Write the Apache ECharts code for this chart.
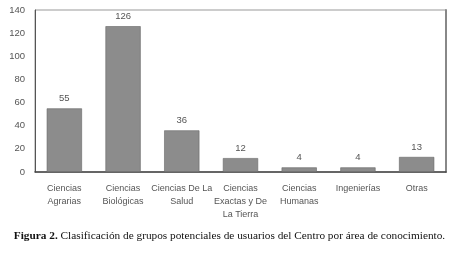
<!DOCTYPE html>
<html>
<head>
<meta charset="utf-8">
<script src="https://cdn.jsdelivr.net/npm/echarts@6/dist/echarts.min.js"></script>
<style>
  html, body { margin: 0; padding: 0; background: #fff; }
  #chart { width: 459px; height: 263px; }
</style>
</head>
<body>
<div id="chart"></div>
<script>
// categorías y valores
const categories = ['Ciencias\nAgrarias', 'Ciencias\nBiológicas', 'Ciencias De La\nSalud',
  'Ciencias\nExactas y De\nLa Tierra', 'Ciencias\nHumanas', 'Ingenierías', 'Otras'];
const values = [55, 126, 36, 12, 4, 4, 13];
const yTicks = [0, 20, 40, 60, 80, 100, 120, 140];

const axisFont = "'Liberation Sans', Arial, sans-serif";

var myChart = echarts.init(document.getElementById('chart'));
var option = {
  animation: false,
  title: {
    text: '{b|Figura 2.} Clasificación de grupos potenciales de usuarios del Centro por área de conocimiento.',
    left: 'center',
    top: 226,
    textStyle: {
      fontFamily: "'Liberation Serif', 'DejaVu Serif', serif",
      fontSize: 11.3,
      fontWeight: 'normal',
      color: '#111',
      rich: {
        b: { fontFamily: "'Liberation Serif', serif", fontSize: 11.3, fontWeight: 'bold', color: '#111' }
      }
    }
  },
  grid: {
    left: 35, right: 13, top: 10, bottom: 91,
    show: true,
    borderColor: '#999',
    borderWidth: 1
  },
  xAxis: {
    type: 'category',
    data: categories,
    axisLine: { lineStyle: { color: '#444', width: 1.5 } },
    axisTick: { show: false },
    axisLabel: {
      interval: 0,
      margin: 10,
      fontFamily: axisFont,
      fontSize: 9,
      lineHeight: 13,
      color: '#555'
    }
  },
  yAxis: [{
    type: 'value',
    min: 0, max: 140, interval: 20,
    splitLine: { show: false },
    axisLine: { show: true, lineStyle: { color: '#555', width: 1 } },
    axisTick: { show: false },
    axisLabel: {
      margin: 10,
      fontFamily: axisFont,
      fontSize: 9.5,
      color: '#555',
      formatter: v => yTicks.includes(v) ? String(v) : ''
    }
  }, {
    type: 'value',
    position: 'right',
    min: 0, max: 140, interval: 20,
    splitLine: { show: false },
    axisLine: { show: true, lineStyle: { color: '#888', width: 2 } },
    axisTick: { show: false },
    axisLabel: { show: false }
  }],
  series: [{
    type: 'bar',
    data: values,
    barWidth: '60%',
    itemStyle: { color: '#8c8c8c', borderColor: '#666', borderWidth: 0.6 },
    label: {
      show: true,
      position: 'top',
      distance: 5,
      fontFamily: axisFont,
      fontSize: 9.5,
      color: '#555'
    }
  }]
};
option && myChart.setOption(option);
</script>
</body>
</html>
